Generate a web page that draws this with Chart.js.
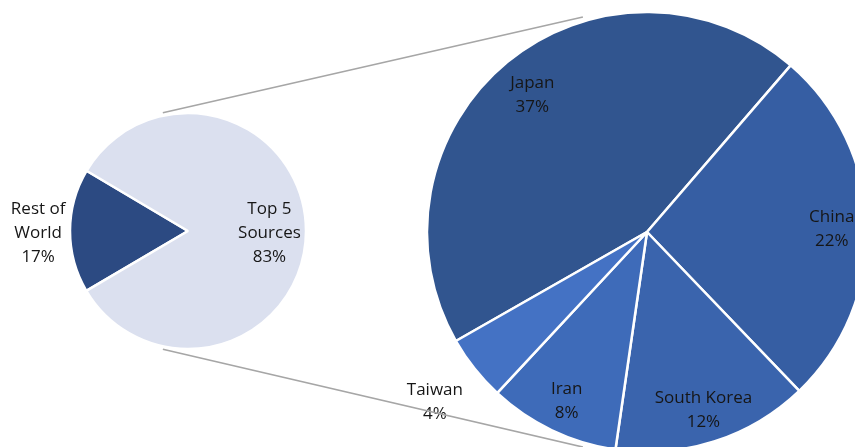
<!DOCTYPE html>
<html>
<head>
<meta charset="utf-8">
<script src="https://cdn.jsdelivr.net/npm/chart.js@4.4.0/dist/chart.umd.min.js"></script>
<style>
  html, body { margin: 0; padding: 0; background: #fff; overflow: hidden; }
  #wrap { position: relative; width: 855px; height: 447px; overflow: hidden; }
  #wrap canvas { position: absolute; }
  #small { left: 0; top: 43px; }
  #big { left: 387px; top: -28px; }
  #lines { left: 0; top: 0; pointer-events: none; }
</style>
</head>
<body>
<div id="wrap">
  <canvas id="small" width="376" height="376"></canvas>
  <canvas id="big" width="520" height="520"></canvas>
  <canvas id="lines" width="855" height="447"></canvas>
</div>
<script>
// world split
const worldLabels = [["Rest of", "World"], ["Top 5", "Sources"]];
const worldValues = [17, 83];

// top 5 sources, share of world total
const sourceLabels = ["Japan", "China", "South Korea", "Iran", "Taiwan"];
const sourceValues = [37, 22, 12, 8, 4];

const worldColors = ["#2c4a82", "#dbe0ef"];
const sourceColors = ["#31558f", "#365ea3", "#3a64ad", "#3e6bb9", "#4472c4"];

const FONT = '17px "Open Sans", "Noto Sans", sans-serif';
const LINE_H = 24;

// label distance from center as fraction of radius (like Excel best fit)
const sliceLabels = {
  id: "sliceLabels",
  afterDatasetsDraw(chart, args, opts) {
    const ctx = chart.ctx;
    const meta = chart.getDatasetMeta(0);
    const values = chart.data.datasets[0].data;
    ctx.save();
    ctx.font = FONT;
    ctx.fillStyle = "#161616";
    ctx.textAlign = "center";
    ctx.textBaseline = "middle";
    meta.data.forEach((arc, i) => {
      const mid = (arc.startAngle + arc.endAngle) / 2;
      const r = arc.outerRadius * opts.pos[i];
      const x = arc.x + Math.cos(mid) * r;
      const y = arc.y + Math.sin(mid) * r + 2;
      let lbl = chart.data.labels[i];
      const lines = (Array.isArray(lbl) ? lbl : [lbl]).concat([values[i] + "%"]);
      const y0 = y - (lines.length - 1) * LINE_H / 2;
      lines.forEach((t, k) => ctx.fillText(t, x, y0 + k * LINE_H));
    });
    ctx.restore();
  }
};

function pieOptions(rotation, pos) {
  return {
    responsive: false,
    animation: false,
    rotation: rotation,
    layout: { padding: 0 },
    events: [],
    plugins: {
      legend: { display: false },
      tooltip: { enabled: false },
      sliceLabels: { pos: pos }
    }
  };
}

const smallChart = new Chart(document.getElementById("small"), {
  type: "pie",
  data: {
    labels: worldLabels,
    datasets: [{
      data: worldValues,
      backgroundColor: worldColors,
      borderColor: "#ffffff",
      borderWidth: 2.5,
      radius: 118
    }]
  },
  options: pieOptions(239.5, [1.27, 0.69]),
  plugins: [sliceLabels]
});

const bigChart = new Chart(document.getElementById("big"), {
  type: "pie",
  data: {
    labels: sourceLabels,
    datasets: [{
      data: sourceValues,
      backgroundColor: sourceColors,
      borderColor: "#ffffff",
      borderWidth: 2.5,
      radius: 220
    }]
  },
  options: pieOptions(240.3, [0.82, 0.84, 0.84, 0.845, 1.23]),
  plugins: [sliceLabels]
});

// connector lines between the two pies
function drawConnectors() {
  const c = document.getElementById("lines");
  const ctx = c.getContext("2d");
  const sEl = document.getElementById("small");
  const bEl = document.getElementById("big");
  const s = smallChart.getDatasetMeta(0).data[0];
  const b = bigChart.getDatasetMeta(0).data[0];
  const sx = sEl.offsetLeft + s.x, sy = sEl.offsetTop + s.y, sr = s.outerRadius * 1.025;
  const bx = bEl.offsetLeft + b.x, by = bEl.offsetTop + b.y, br = b.outerRadius * 1.02;
  const pt = (cx, cy, r, deg) => {
    const a = (deg - 90) * Math.PI / 180;
    return [cx + Math.cos(a) * r, cy + Math.sin(a) * r];
  };
  ctx.strokeStyle = "#a6a6a6";
  ctx.lineWidth = 1.6;
  [[-12, -16.6], [192, 196.6]].forEach(([a1, a2]) => {
    const p1 = pt(sx, sy, sr, a1);
    const p2 = pt(bx, by, br, a2);
    ctx.beginPath();
    ctx.moveTo(p1[0], p1[1]);
    ctx.lineTo(p2[0], p2[1]);
    ctx.stroke();
  });
}
drawConnectors();
</script>
</body>
</html>
